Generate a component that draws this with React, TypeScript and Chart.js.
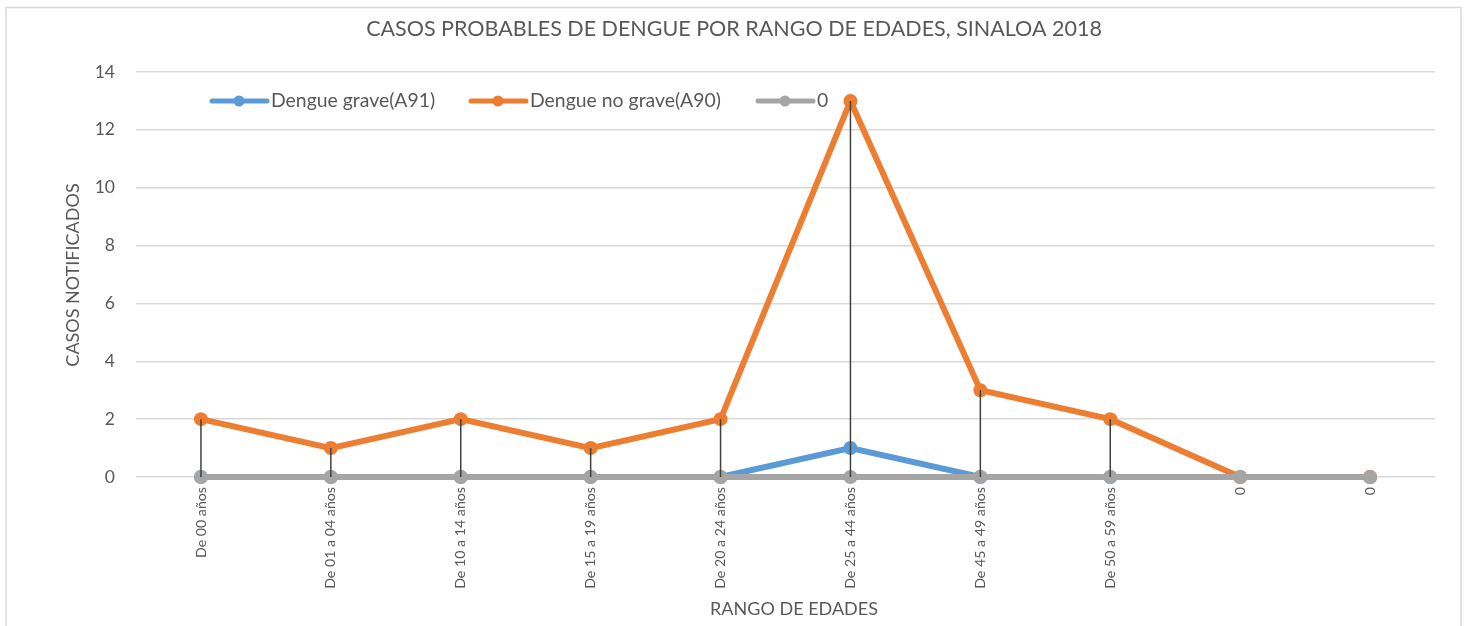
import React, { useEffect, useRef } from "react";
import { Chart, registerables } from "chart.js";

Chart.register(...registerables);

const categories = [
  "De 00 años",
  "De 01 a 04 años",
  "De 10 a 14 años",
  "De 15 a 19 años",
  "De 20 a 24 años",
  "De 25 a 44 años",
  "De 45 a 49 años",
  "De 50 a 59 años",
  "0",
  "0",
];
const dengueGrave = [0, 0, 0, 0, 0, 1, 0, 0, 0, 0];
const dengueNoGrave = [2, 1, 2, 1, 2, 13, 3, 2, 0, 0];
const serieCero = [0, 0, 0, 0, 0, 0, 0, 0, 0, 0];
const seriesLabels = ["Dengue grave(A91)", "Dengue no grave(A90)", "0"];
const yTicks = [0, 2, 4, 6, 8, 10, 12, 14];

const TITLE = "CASOS PROBABLES DE DENGUE POR RANGO DE EDADES, SINALOA 2018";
const Y_TITLE = "CASOS NOTIFICADOS";
const X_TITLE = "RANGO DE EDADES";

const FONT = "Lato";
const TEXT = "#595959";
const COLORS = ["#5b9bd5", "#ed7d31", "#a5a5a5"];

const decorPlugin = {
  id: "decor",
  beforeDraw(chart: any) {
    const ctx = chart.ctx;
    ctx.save();
    ctx.fillStyle = "#ffffff";
    ctx.fillRect(0, 0, chart.width, chart.height);
    ctx.strokeStyle = "#d9d9d9";
    ctx.lineWidth = 1.5;
    ctx.strokeRect(6, 7.5, 1455, 700);
    ctx.restore();
  },
  afterDatasetsDraw(chart: any) {
    const ctx = chart.ctx;
    const x = chart.scales.x;
    const y = chart.scales.y;
    ctx.save();
    ctx.strokeStyle = "#404040";
    ctx.lineWidth = 1.5;
    categories.forEach((_, i) => {
      const vals = chart.data.datasets.map((d: any) => d.data[i] as number);
      const hi = Math.max(...vals);
      const lo = Math.min(...vals);
      if (hi === lo) return;
      const px = x.getPixelForValue(i);
      ctx.beginPath();
      ctx.moveTo(px, y.getPixelForValue(hi));
      ctx.lineTo(px, y.getPixelForValue(lo));
      ctx.stroke();
    });
    ctx.restore();
  },
  afterDraw(chart: any) {
    const ctx = chart.ctx;
    ctx.save();
    ctx.fillStyle = TEXT;
    ctx.font = `21.5px ${FONT}`;
    ctx.textAlign = "center";
    ctx.textBaseline = "middle";
    ctx.fillText(TITLE, 734, 29);
    ctx.font = `18px ${FONT}`;
    ctx.fillText(X_TITLE, 794, 609);
    ctx.save();
    ctx.translate(73, 275);
    ctx.rotate(-Math.PI / 2);
    ctx.fillText(Y_TITLE, 0, 0);
    ctx.restore();
    const legendX = [212, 471, 758];
    const ly = 101;
    ctx.textAlign = "left";
    ctx.font = `19.4px ${FONT}`;
    chart.data.datasets.forEach((d: any, i: number) => {
      const lx = legendX[i];
      ctx.strokeStyle = d.borderColor;
      ctx.lineWidth = 5;
      ctx.lineCap = "round";
      ctx.beginPath();
      ctx.moveTo(lx, ly);
      ctx.lineTo(lx + 55, ly);
      ctx.stroke();
      ctx.fillStyle = d.borderColor;
      ctx.beginPath();
      ctx.arc(lx + 27, ly, 5.5, 0, Math.PI * 2);
      ctx.fill();
      ctx.fillStyle = TEXT;
      ctx.fillText(d.label, lx + 59, ly);
    });
    ctx.restore();
  },
};

export default function App() {
  const ref = useRef<HTMLCanvasElement | null>(null);
  useEffect(() => {
    if (!ref.current) return;
    const data = [dengueGrave, dengueNoGrave, serieCero];
    const chart = new Chart(ref.current, {
      type: "line",
      data: {
        labels: categories,
        datasets: data.map((d, i) => ({
          label: seriesLabels[i],
          data: d,
          borderColor: COLORS[i],
          backgroundColor: COLORS[i],
          pointBackgroundColor: COLORS[i],
          pointBorderColor: COLORS[i],
          borderWidth: 6,
          pointRadius: 7,
          pointBorderWidth: 0,
          tension: 0,
          clip: false,
          order: 2 - i,
        })),
      },
      options: {
        animation: false,
        responsive: false,
        maintainAspectRatio: false,
        layout: { padding: { top: 72, right: 33, left: 0, bottom: 0 } },
        plugins: {
          legend: { display: false },
          title: { display: false },
          tooltip: { enabled: false },
        },
        scales: {
          x: {
            offset: true,
            grid: { display: false, drawTicks: false },
            border: { display: false },
            ticks: {
              autoSkip: false,
              maxRotation: 90,
              minRotation: 90,
              padding: 10,
              color: TEXT,
              font: { family: FONT, size: 14.2 },
            },
            afterFit(scale: any) {
              scale.height = 149;
            },
          },
          y: {
            min: 0,
            max: 14,
            afterBuildTicks(scale: any) {
              scale.ticks = yTicks.map((v) => ({ value: v }));
            },
            grid: { color: "#d9d9d9", lineWidth: 1.5, drawTicks: false },
            border: { display: false },
            ticks: {
              padding: 21,
              color: TEXT,
              font: { family: FONT, size: 17.5 },
            },
            afterFit(scale: any) {
              scale.width = 136;
            },
          },
        },
      },
      plugins: [decorPlugin],
    });
    return () => chart.destroy();
  }, []);
  return (
    <div style={{ position: "fixed", left: 0, top: 0, width: 1468, height: 626 }}>
      <canvas ref={ref} width={1468} height={626} style={{ display: "block" }} />
    </div>
  );
}
